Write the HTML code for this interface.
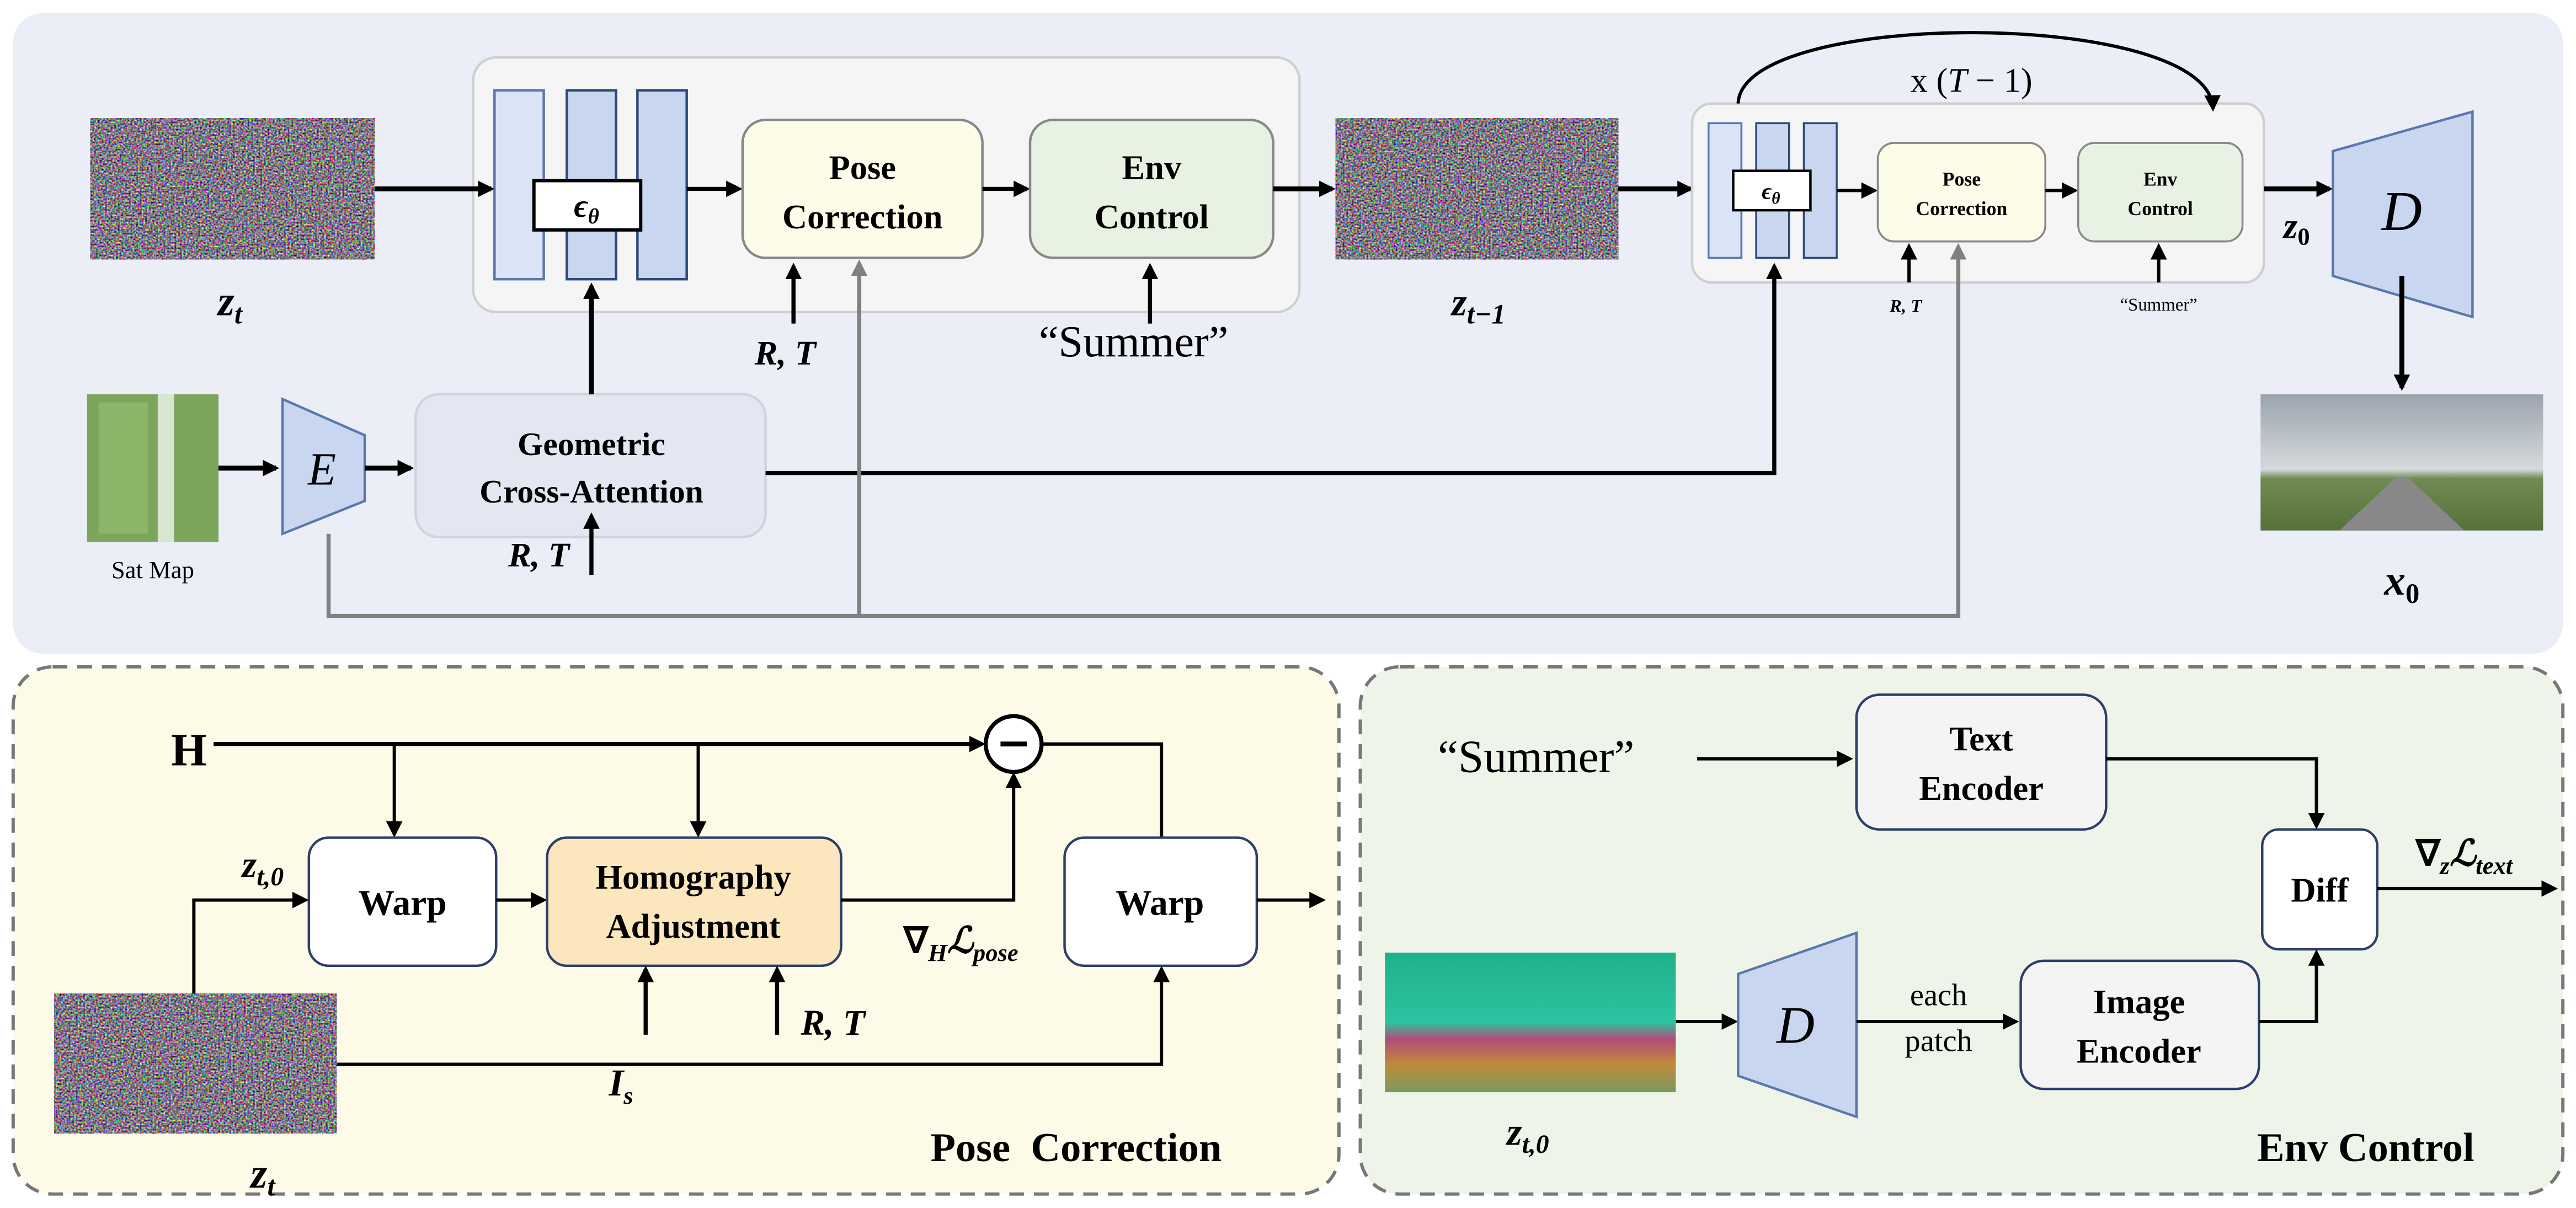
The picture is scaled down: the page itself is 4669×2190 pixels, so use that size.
<!DOCTYPE html>
<html><head><meta charset="utf-8"><style>
html,body{margin:0;padding:0;background:#fff;}
svg{display:block;}
text{font-family:"Liberation Serif",serif;}
.b{font-weight:bold;}
.m{font-weight:bold;font-style:italic;}
</style></head><body>
<svg width="4669" height="2190" viewBox="0 0 1568 735.5" preserveAspectRatio="none" xmlns="http://www.w3.org/2000/svg">
<defs>
<filter id="nz" x="0" y="0" width="100%" height="100%" color-interpolation-filters="sRGB">
<feTurbulence type="fractalNoise" baseFrequency="0.9" numOctaves="1" seed="3" result="t"/>
<feColorMatrix type="matrix" values="2.0 0 0 0 -0.5  0 2.0 0 0 -0.53  0 0 2.0 0 -0.48  0 0 0 0 1"/>
</filter>
<marker id="ah" markerWidth="10" markerHeight="10" refX="8" refY="5" orient="auto" markerUnits="userSpaceOnUse"><path d="M0,0 L10,5 L0,10 z" fill="#000"/></marker>
<marker id="ag" markerWidth="10" markerHeight="10" refX="8" refY="5" orient="auto" markerUnits="userSpaceOnUse"><path d="M0,0 L10,5 L0,10 z" fill="#808080"/></marker>
<linearGradient id="sky" x1="0" y1="0" x2="0" y2="1"><stop offset="0" stop-color="#9aa3ad"/><stop offset="0.55" stop-color="#d6dadd"/><stop offset="0.62" stop-color="#6f8a52"/><stop offset="1" stop-color="#56723a"/></linearGradient>
<linearGradient id="zt0" x1="0" y1="0" x2="0" y2="1"><stop offset="0" stop-color="#1fb08a"/><stop offset="0.5" stop-color="#2cc3a0"/><stop offset="0.62" stop-color="#b24a7a"/><stop offset="0.8" stop-color="#c08a3a"/><stop offset="1" stop-color="#7a9a60"/></linearGradient>
</defs>

<rect x="8" y="8" width="1552" height="390" rx="18" fill="#eceef7"/>
<rect x="55" y="72" width="173" height="86" filter="url(#nz)"/>
<text x="140" y="192" class="m" font-size="26" text-anchor="middle">z<tspan font-size="17" dy="5">t</tspan></text>
<rect x="288" y="35" width="503" height="155" rx="14" fill="#f5f5f5" stroke="#cfcfcf" stroke-width="1.5"/>
<rect x="301" y="55" width="30" height="115" fill="#dbe4f7" stroke="#5a78ad" stroke-width="1.5"/>
<rect x="345" y="55" width="30" height="115" fill="#c9d6f0" stroke="#2d4a7c" stroke-width="1.5"/>
<rect x="388" y="55" width="30" height="115" fill="#c9d6f0" stroke="#2d4a7c" stroke-width="1.5"/>
<line x1="228" y1="115" x2="299" y2="115" stroke="#000" stroke-width="3" marker-end="url(#ah)"/>
<rect x="325" y="110" width="65" height="30" fill="#fff" stroke="#000" stroke-width="2"/>
<text x="357" y="132" class="m" font-size="20" text-anchor="middle">ϵ<tspan font-size="13" dy="4">θ</tspan></text>
<line x1="418" y1="115" x2="450" y2="115" stroke="#000" stroke-width="2.5" marker-end="url(#ah)"/>
<rect x="452" y="73" width="146" height="84" rx="14" fill="#fcfce9" stroke="#888" stroke-width="1.5"/>
<text x="525" y="109" class="b" font-size="21" text-anchor="middle">Pose</text>
<text x="525" y="139" class="b" font-size="21" text-anchor="middle">Correction</text>
<line x1="598" y1="115" x2="625" y2="115" stroke="#000" stroke-width="2.5" marker-end="url(#ah)"/>
<rect x="627" y="73" width="148" height="84" rx="14" fill="#e8f2e2" stroke="#888" stroke-width="1.5"/>
<text x="701" y="109" class="b" font-size="21" text-anchor="middle">Env</text>
<text x="701" y="139" class="b" font-size="21" text-anchor="middle">Control</text>
<line x1="775" y1="115" x2="811" y2="115" stroke="#000" stroke-width="3" marker-end="url(#ah)"/>
<rect x="813" y="72" width="172" height="86" filter="url(#nz)"/>
<text x="900" y="192" class="m" font-size="24" text-anchor="middle">z<tspan font-size="17" dy="5">t−1</tspan></text>
<line x1="985" y1="115" x2="1029" y2="115" stroke="#000" stroke-width="3" marker-end="url(#ah)"/>
<rect x="1030" y="63" width="348" height="109" rx="12" fill="#f5f5f5" stroke="#cfcfcf" stroke-width="1.5"/>
<rect x="1040" y="75" width="20" height="82" fill="#dbe4f7" stroke="#5a78ad" stroke-width="1.2"/>
<rect x="1069" y="75" width="20" height="82" fill="#c9d6f0" stroke="#2d4a7c" stroke-width="1.2"/>
<rect x="1098" y="75" width="20" height="82" fill="#c9d6f0" stroke="#2d4a7c" stroke-width="1.2"/>
<rect x="1055" y="104" width="47" height="24" fill="#fff" stroke="#000" stroke-width="1.5"/>
<text x="1078" y="121" class="m" font-size="14" text-anchor="middle">ϵ<tspan font-size="10" dy="3">θ</tspan></text>
<line x1="1118" y1="116" x2="1141" y2="116" stroke="#000" stroke-width="2" marker-end="url(#ah)"/>
<rect x="1143" y="87" width="102" height="60" rx="10" fill="#fcfce9" stroke="#888" stroke-width="1.2"/>
<text x="1194" y="113" class="b" font-size="12" text-anchor="middle">Pose</text>
<text x="1194" y="131" class="b" font-size="12" text-anchor="middle">Correction</text>
<line x1="1245" y1="116" x2="1263" y2="116" stroke="#000" stroke-width="2" marker-end="url(#ah)"/>
<rect x="1265" y="87" width="100" height="60" rx="10" fill="#e8f2e2" stroke="#888" stroke-width="1.2"/>
<text x="1315" y="113" class="b" font-size="12" text-anchor="middle">Env</text>
<text x="1315" y="131" class="b" font-size="12" text-anchor="middle">Control</text>
<path d="M1058,63 C1060,5 1345,5 1347,66" fill="none" stroke="#000" stroke-width="2" marker-end="url(#ah)"/>
<text x="1200" y="56" font-size="21" text-anchor="middle" font-family="Liberation Sans">x (<tspan font-style="italic" font-family="Liberation Serif">T</tspan> − 1)</text>
<line x1="1378" y1="115" x2="1418" y2="115" stroke="#000" stroke-width="3" marker-end="url(#ah)"/>
<text x="1398" y="145" class="m" font-size="22" text-anchor="middle">z<tspan font-size="15" dy="4" font-style="normal">0</tspan></text>
<polygon points="1420,92 1505,68 1505,193 1420,168" fill="#c9d6f0" stroke="#5a78ad" stroke-width="1.5"/>
<text x="1462" y="140" font-size="34" font-style="italic" text-anchor="middle">D</text>
<line x1="1462" y1="168" x2="1462" y2="236" stroke="#000" stroke-width="3" marker-end="url(#ah)"/>
<rect x="1376" y="240" width="172" height="83" fill="url(#sky)"/>
<polygon points="1458,291 1466,291 1500,323 1424,323" fill="#888"/>
<text x="1462" y="362" class="m" font-size="26" text-anchor="middle">x<tspan font-size="17" dy="5" font-style="normal">0</tspan></text>
<rect x="53" y="240" width="80" height="90" fill="#7aa55a"/>
<rect x="96" y="240" width="10" height="90" fill="#d8e6d0"/>
<rect x="60" y="245" width="30" height="80" fill="#8cb56a"/>
<text x="93" y="352" font-size="15" text-anchor="middle">Sat Map</text>
<line x1="133" y1="285" x2="168" y2="285" stroke="#000" stroke-width="3" marker-end="url(#ah)"/>
<polygon points="172,243 222,265 222,305 172,325" fill="#c9d6f0" stroke="#5a78ad" stroke-width="1.5"/>
<text x="196" y="295" font-size="28" font-style="italic" text-anchor="middle">E</text>
<line x1="222" y1="285" x2="250" y2="285" stroke="#000" stroke-width="3" marker-end="url(#ah)"/>
<rect x="253" y="240" width="213" height="87" rx="14" fill="#e4e6f1" stroke="#d0d2dd" stroke-width="1.5"/>
<text x="360" y="277" class="b" font-size="20" text-anchor="middle">Geometric</text>
<text x="360" y="306" class="b" font-size="20" text-anchor="middle">Cross-Attention</text>
<line x1="360" y1="240" x2="360" y2="174" stroke="#000" stroke-width="3" marker-end="url(#ah)"/>
<text x="328" y="345" class="m" font-size="21" text-anchor="middle">R, T</text>
<line x1="360" y1="350" x2="360" y2="314" stroke="#000" stroke-width="2.5" marker-end="url(#ah)"/>
<polyline points="466,288 1080,288 1080,162" fill="none" stroke="#000" stroke-width="2.5" marker-end="url(#ah)"/>
<polyline points="200,325 200,375 1192,375 1192,150" fill="none" stroke="#808080" stroke-width="2.5" marker-end="url(#ag)"/>
<line x1="523" y1="375" x2="523" y2="160" stroke="#808080" stroke-width="2.5" marker-end="url(#ag)"/>
<line x1="483" y1="197" x2="483" y2="162" stroke="#000" stroke-width="2.5" marker-end="url(#ah)"/>
<text x="478" y="222" class="m" font-size="21" text-anchor="middle">R, T</text>
<line x1="700" y1="197" x2="700" y2="162" stroke="#000" stroke-width="2.5" marker-end="url(#ah)"/>
<text x="690" y="217" font-size="27" text-anchor="middle">“Summer”</text>
<line x1="1162" y1="172" x2="1162" y2="150" stroke="#000" stroke-width="2" marker-end="url(#ah)"/>
<text x="1160" y="190" class="m" font-size="11" text-anchor="middle">R, T</text>
<line x1="1314" y1="172" x2="1314" y2="150" stroke="#000" stroke-width="2" marker-end="url(#ah)"/>
<text x="1314" y="189" font-size="11" text-anchor="middle">“Summer”</text>

<rect x="8" y="406" width="807" height="321" rx="24" fill="#fdfbe8" stroke="#777" stroke-width="2" stroke-dasharray="9,6"/>
<text x="115" y="466" font-family="Liberation Sans" font-weight="bold" font-size="28" text-anchor="middle">H</text>
<line x1="130" y1="453" x2="598" y2="453" stroke="#000" stroke-width="2.5" marker-end="url(#ah)"/>
<circle cx="617" cy="453" r="17" fill="#fff" stroke="#000" stroke-width="2.5"/>
<line x1="609" y1="453" x2="625" y2="453" stroke="#000" stroke-width="3"/>
<polyline points="634,453 707,453 707,510" fill="none" stroke="#000" stroke-width="2"/>
<line x1="240" y1="453" x2="240" y2="508" stroke="#000" stroke-width="2" marker-end="url(#ah)"/>
<line x1="425" y1="453" x2="425" y2="508" stroke="#000" stroke-width="2" marker-end="url(#ah)"/>
<rect x="188" y="510" width="114" height="78" rx="12" fill="#fff" stroke="#2d3f6a" stroke-width="1.5"/>
<text x="245" y="557" class="b" font-size="22" text-anchor="middle">Warp</text>
<line x1="302" y1="548" x2="331" y2="548" stroke="#000" stroke-width="2" marker-end="url(#ah)"/>
<rect x="333" y="510" width="179" height="78" rx="12" fill="#fce6bd" stroke="#2d3f6a" stroke-width="1.5"/>
<text x="422" y="541" class="b" font-size="21" text-anchor="middle">Homography</text>
<text x="422" y="571" class="b" font-size="21" text-anchor="middle">Adjustment</text>
<polyline points="512,548 617,548 617,472" fill="none" stroke="#000" stroke-width="2" marker-end="url(#ah)"/>
<text x="585" y="580" class="m" font-size="22" text-anchor="middle"><tspan font-style="normal">∇</tspan><tspan font-size="15" dy="5">H</tspan><tspan dy="-5">ℒ</tspan><tspan font-size="15" dy="5">pose</tspan></text>
<rect x="648" y="510" width="117" height="78" rx="12" fill="#fff" stroke="#2d3f6a" stroke-width="1.5"/>
<text x="706" y="557" class="b" font-size="22" text-anchor="middle">Warp</text>
<line x1="765" y1="548" x2="805" y2="548" stroke="#000" stroke-width="2" marker-end="url(#ah)"/>
<rect x="33" y="605" width="172" height="85" filter="url(#nz)"/>
<text x="160" y="723" class="m" font-size="26" text-anchor="middle">z<tspan font-size="17" dy="5">t</tspan></text>
<polyline points="118,605 118,548 186,548" fill="none" stroke="#000" stroke-width="2" marker-end="url(#ah)"/>
<text x="160" y="534" class="m" font-size="23" text-anchor="middle">z<tspan font-size="16" dy="5">t,0</tspan></text>
<polyline points="205,648 707,648 707,590" fill="none" stroke="#000" stroke-width="2" marker-end="url(#ah)"/>
<line x1="393" y1="630" x2="393" y2="590" stroke="#000" stroke-width="2.5" marker-end="url(#ah)"/>
<text x="378" y="667" class="m" font-size="23" text-anchor="middle">I<tspan font-size="15" dy="5">s</tspan></text>
<line x1="473" y1="630" x2="473" y2="590" stroke="#000" stroke-width="2.5" marker-end="url(#ah)"/>
<text x="507" y="630" class="m" font-size="22" text-anchor="middle">R, T</text>
<text x="655" y="707" class="b" font-size="25" text-anchor="middle" xml:space="preserve">Pose  Correction</text>

<rect x="828" y="406" width="732" height="321" rx="24" fill="#eef5e8" stroke="#777" stroke-width="2" stroke-dasharray="9,6"/>
<text x="935" y="470" font-size="28" text-anchor="middle">“Summer”</text>
<line x1="1033" y1="462" x2="1126" y2="462" stroke="#000" stroke-width="2" marker-end="url(#ah)"/>
<rect x="1130" y="423" width="152" height="82" rx="14" fill="#f4f4f4" stroke="#2d3f6a" stroke-width="1.5"/>
<text x="1206" y="457" class="b" font-size="21" text-anchor="middle">Text</text>
<text x="1206" y="487" class="b" font-size="21" text-anchor="middle">Encoder</text>
<polyline points="1282,462 1410,462 1410,503" fill="none" stroke="#000" stroke-width="2" marker-end="url(#ah)"/>
<rect x="1377" y="505" width="70" height="73" rx="10" fill="#fff" stroke="#2d3f6a" stroke-width="1.5"/>
<text x="1412" y="549" class="b" font-size="21" text-anchor="middle">Diff</text>
<text x="1500" y="527" class="m" font-size="22" text-anchor="middle"><tspan font-style="normal">∇</tspan><tspan font-size="15" dy="5">z</tspan><tspan dy="-5">ℒ</tspan><tspan font-size="15" dy="5">text</tspan></text>
<line x1="1447" y1="541" x2="1555" y2="541" stroke="#000" stroke-width="2" marker-end="url(#ah)"/>
<rect x="843" y="580" width="177" height="85" fill="url(#zt0)"/>
<text x="930" y="697" class="m" font-size="24" text-anchor="middle">z<tspan font-size="16" dy="5">t,0</tspan></text>
<line x1="1020" y1="622" x2="1056" y2="622" stroke="#000" stroke-width="2" marker-end="url(#ah)"/>
<polygon points="1058,593 1130,568 1130,680 1058,655" fill="#c9d6f0" stroke="#5a78ad" stroke-width="1.5"/>
<text x="1093" y="635" font-size="32" font-style="italic" text-anchor="middle">D</text>
<text x="1180" y="612" font-size="19" text-anchor="middle">each</text>
<text x="1180" y="640" font-size="19" text-anchor="middle">patch</text>
<line x1="1130" y1="622" x2="1227" y2="622" stroke="#000" stroke-width="2" marker-end="url(#ah)"/>
<rect x="1230" y="585" width="145" height="78" rx="14" fill="#f4f4f4" stroke="#2d3f6a" stroke-width="1.5"/>
<text x="1302" y="617" class="b" font-size="21" text-anchor="middle">Image</text>
<text x="1302" y="647" class="b" font-size="21" text-anchor="middle">Encoder</text>
<polyline points="1375,622 1410,622 1410,580" fill="none" stroke="#000" stroke-width="2" marker-end="url(#ah)"/>
<text x="1440" y="707" class="b" font-size="25" text-anchor="middle">Env Control</text>
</svg>
</body></html>
